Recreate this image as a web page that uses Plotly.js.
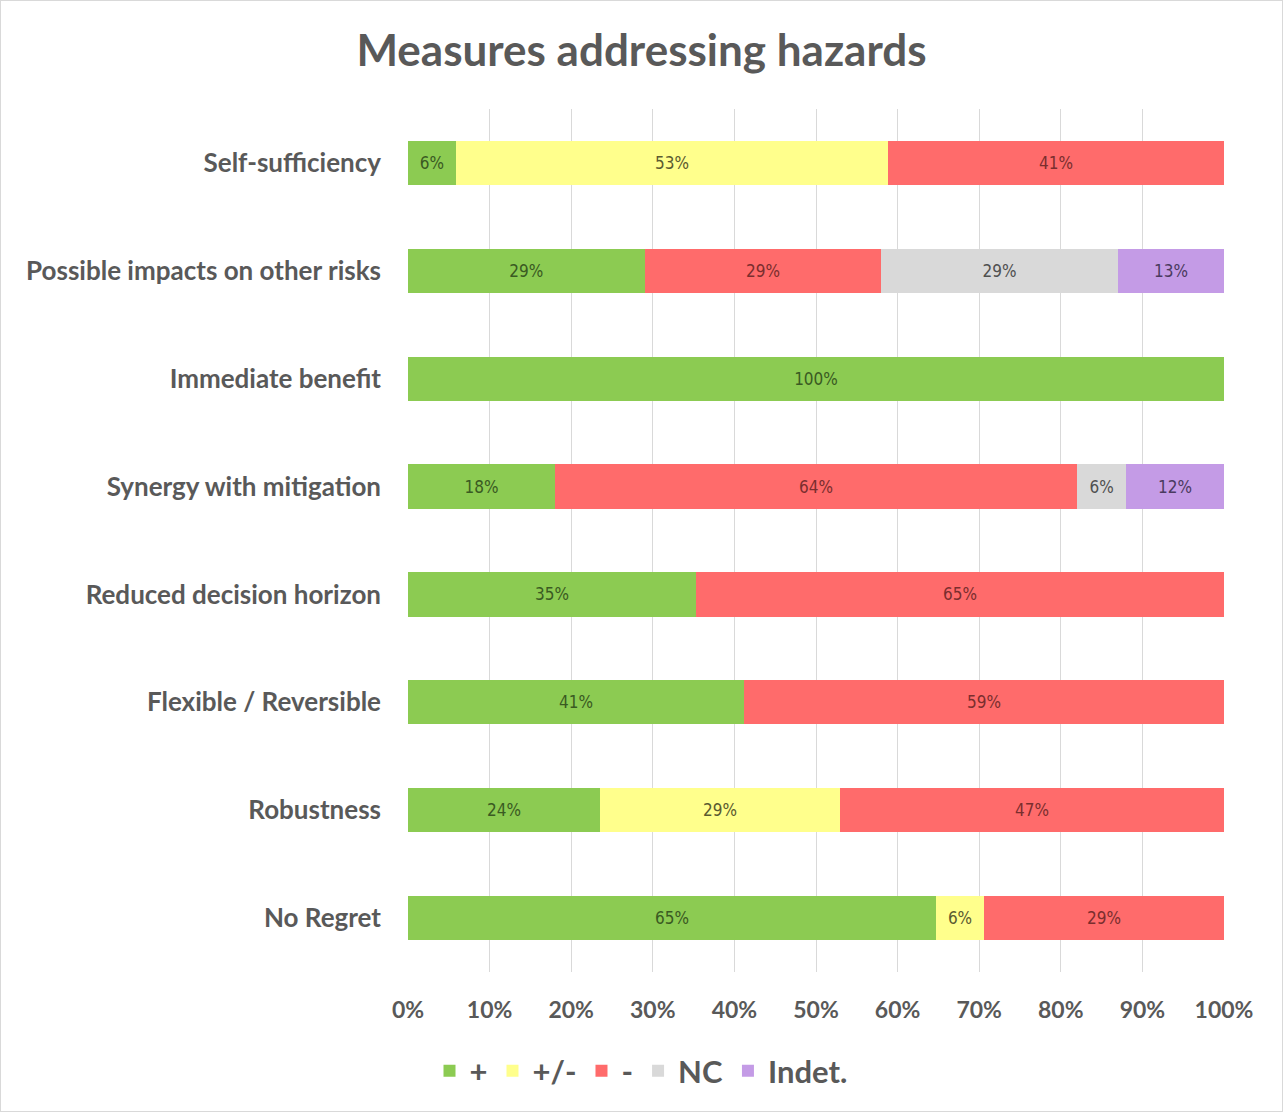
<!DOCTYPE html>
<html>
<head>
<meta charset="utf-8">
<script src="https://cdn.plot.ly/plotly-3.0.1.min.js"></script>
<style>
  html, body { margin: 0; padding: 0; background: #fff; }
  #wrap { width: 1281px; height: 1110px; border: 1px solid #d9d9d9; }
  #chart { width: 1281px; height: 1110px; }
</style>
</head>
<body>
<div id="wrap"><div id="chart"></div></div>
<script>
const categories = [
  "Self-sufficiency",
  "Possible impacts on other risks",
  "Immediate benefit",
  "Synergy with mitigation",
  "Reduced decision horizon",
  "Flexible / Reversible",
  "Robustness",
  "No Regret"
];
const seriesNames = ["+", "+/-", "-", "NC", "Indet."];
const plusVals   = [5.88, 29, 100, 18, 35.29, 41.18, 23.53, 64.71];
const mixedVals  = [52.94, 0, 0, 0, 0, 0, 29.41, 5.88];
const minusVals  = [41.18, 29, 0, 64, 64.71, 58.82, 47.06, 29.41];
const ncVals     = [0, 29, 0, 6, 0, 0, 0, 0];
const indetVals  = [0, 13, 0, 12, 0, 0, 0, 0];
const xTicks = [0, 10, 20, 30, 40, 50, 60, 70, 80, 90, 100];

const colors = ["#8CCB52", "#FFFF8C", "#FF6B6B", "#D9D9D9", "#C49BE6"];
const textColors = ["#3a5a22", "#5a5a30", "#7a2e2e", "#505050", "#4a3a60"];
const allVals = [plusVals, mixedVals, minusVals, ncVals, indetVals];

const traces = allVals.map((vals, i) => ({
  type: "bar",
  orientation: "h",
  name: seriesNames[i],
  y: categories,
  x: vals,
  marker: { color: colors[i], line: { width: 0 } },
  text: vals.map(v => v > 0 ? Math.round(v) + "%" : ""),
  texttemplate: "%{text}",
  textposition: "inside",
  insidetextanchor: "middle",
  textangle: 0,
  constraintext: "none",
  insidetextfont: { family: "DejaVu Sans Condensed, DejaVu Sans, sans-serif", size: 17, color: textColors[i] },
  hoverinfo: "skip"
}));

const layout = {
  width: 1281,
  height: 1110,
  margin: { l: 407, r: 58, t: 108, b: 139 },
  paper_bgcolor: "#ffffff",
  plot_bgcolor: "#ffffff",
  barmode: "stack",
  bargap: 0.59,
  showlegend: true,
  title: {
    text: "<b>Measures addressing hazards</b>",
    font: { family: "Lato, 'Open Sans', sans-serif", size: 44, color: "#595959" },
    x: 0.5, xref: "container", xanchor: "center",
    y: 1 - 50 / 1110, yref: "container", yanchor: "middle"
  },
  xaxis: {
    range: [0, 100],
    tickvals: xTicks,
    ticktext: xTicks.map(v => "<b>" + v + "%</b>"),
    showgrid: true,
    gridcolor: "#d9d9d9",
    gridwidth: 1,
    zeroline: false,
    showline: false,
    ticks: "",
    tickfont: { family: "Lato, 'Open Sans', sans-serif", size: 23, color: "#595959" },
    ticklabelstandoff: 22,
    fixedrange: true
  },
  yaxis: {
    autorange: "reversed",
    type: "category",
    tickvals: categories,
    ticktext: categories.map(c => "<b>" + c + "</b>"),
    showgrid: false,
    zeroline: false,
    showline: false,
    ticks: "",
    ticklabelstandoff: 26,
    tickfont: { family: "Lato, 'Open Sans', sans-serif", size: 26, color: "#595959" },
    fixedrange: true
  },
  legend: {
    orientation: "h",
    x: (640 - 407) / 816, xanchor: "center",
    y: -(1071 - 972) / 863, yanchor: "middle",
    font: { family: "Lato, 'Open Sans', sans-serif", size: 31, color: "#595959", weight: "bold" },
    itemwidth: 30,
    traceorder: "normal",
    itemclick: false,
    itemdoubleclick: false
  }
};

Plotly.newPlot("chart", traces, layout, { displayModeBar: false, staticPlot: true });
</script>
</body>
</html>
